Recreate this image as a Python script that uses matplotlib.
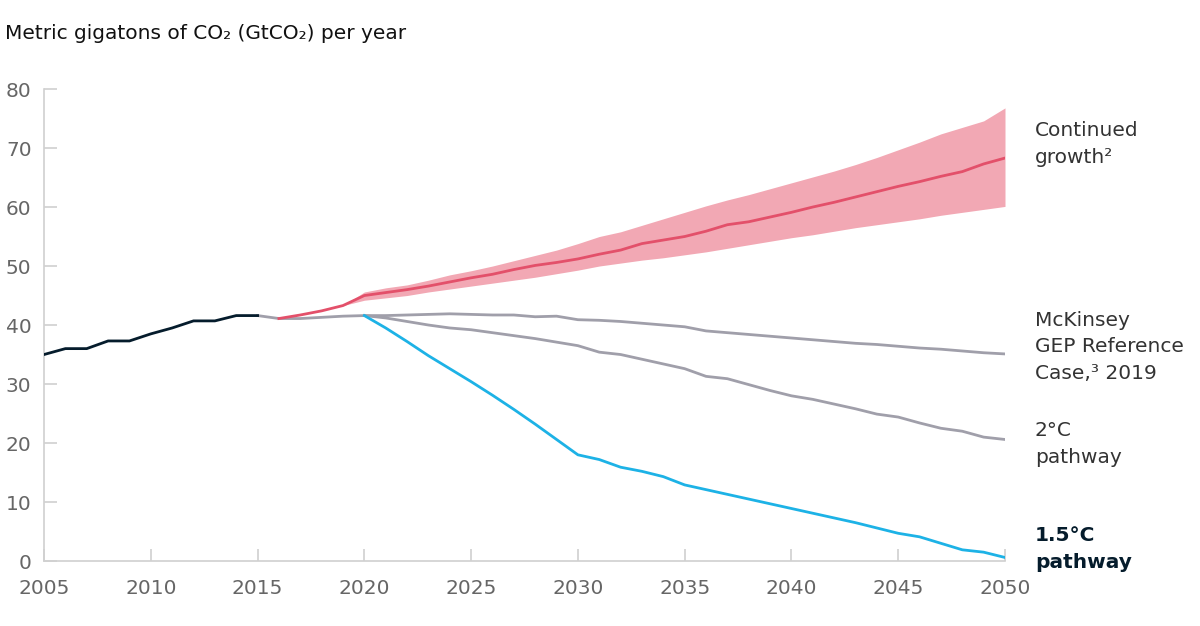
import numpy as np
import matplotlib
matplotlib.use("Agg")
import matplotlib.pyplot as plt

# historical emissions (GtCO2)
hist_years = list(range(2005, 2016))
hist_vals = [35.0, 36.0, 36.0, 37.3, 37.3, 38.5, 39.5, 40.7, 40.7, 41.6, 41.6]

# shared grey segment 2015-2020
shared_years = list(range(2015, 2021))
shared_vals = [41.6, 41.1, 41.1, 41.3, 41.5, 41.6]

proj_years = list(range(2020, 2051))

# continued growth (red line + band)
growth_years = list(range(2016, 2051))
growth_vals = [41.1, 41.7, 42.4, 43.3,
               45.0, 45.5, 46.0, 46.6, 47.3, 48.0, 48.6, 49.4, 50.1, 50.6,
               51.2, 52.0, 52.7, 53.8, 54.4, 55.0, 55.9, 57.0, 57.5, 58.3,
               59.1, 60.0, 60.8, 61.7, 62.6, 63.5, 64.3, 65.2, 66.0, 67.3, 68.3]
band_years = list(range(2019, 2051))
band_upper = [43.3,
              45.6, 46.3, 46.8, 47.6, 48.5, 49.2, 50.0, 50.9, 51.8, 52.7,
              53.8, 55.0, 55.8, 56.9, 58.0, 59.1, 60.2, 61.2, 62.1, 63.1,
              64.1, 65.1, 66.1, 67.2, 68.4, 69.7, 71.0, 72.4, 73.5, 74.6, 76.8]
band_lower = [43.3,
              44.2, 44.6, 45.0, 45.6, 46.1, 46.6, 47.1, 47.6, 48.1, 48.7,
              49.3, 50.0, 50.5, 51.0, 51.4, 51.9, 52.4, 53.0, 53.6, 54.2,
              54.8, 55.3, 55.9, 56.5, 57.0, 57.5, 58.0, 58.6, 59.1, 59.6, 60.1]

# McKinsey GEP reference case
ref_vals = [41.6, 41.6, 41.7, 41.8, 41.9, 41.8, 41.7, 41.7, 41.4, 41.5,
            40.9, 40.8, 40.6, 40.3, 40.0, 39.7, 39.0, 38.7, 38.4, 38.1,
            37.8, 37.5, 37.2, 36.9, 36.7, 36.4, 36.1, 35.9, 35.6, 35.3, 35.1]

# 2 degree pathway
two_vals = [41.6, 41.2, 40.6, 40.0, 39.5, 39.2, 38.7, 38.2, 37.7, 37.1,
            36.5, 35.4, 35.0, 34.2, 33.4, 32.6, 31.3, 30.9, 29.9, 28.9,
            28.0, 27.4, 26.6, 25.8, 24.9, 24.4, 23.4, 22.5, 22.0, 21.0, 20.6]

# 1.5 degree pathway
one5_vals = [41.6, 39.5, 37.2, 34.8, 32.6, 30.4, 28.1, 25.7, 23.2, 20.6,
             18.0, 17.2, 15.9, 15.2, 14.3, 12.9, 12.1, 11.3, 10.5, 9.7,
             8.9, 8.1, 7.3, 6.5, 5.6, 4.7, 4.1, 3.0, 1.9, 1.5, 0.6]

x_ticks = list(range(2005, 2051, 5))
y_ticks = list(range(0, 81, 10))

navy = "#051C2C"
grey = "#A09FAA"
red = "#E3506A"
band = "#F2A8B4"
blue = "#1DB2E6"
tick_col = "#666666"

plt.rcParams['font.family'] = ['DejaVu Sans']
fs = 14.5

fig = plt.figure(figsize=(12, 6.26), dpi=100)
ax = fig.add_axes([0.0367, 0.1038, 0.8008, 0.754])

ax.fill_between(band_years, band_lower, band_upper, color=band, lw=0, zorder=1)
ax.plot(proj_years, ref_vals, color=grey, lw=2, zorder=2)
ax.plot(proj_years, two_vals, color=grey, lw=2, zorder=2)
ax.plot(shared_years, shared_vals, color=grey, lw=2, zorder=2)
ax.plot(proj_years, one5_vals, color=blue, lw=2, zorder=3)
ax.plot(growth_years, growth_vals, color=red, lw=2, zorder=3)
ax.plot(hist_years, hist_vals, color=navy, lw=2, zorder=4)

ax.set_xlim(2005, 2050)
ax.set_ylim(0, 80)
ax.set_xticks(x_ticks)
ax.set_yticks(y_ticks)
for s in ['top', 'right']:
    ax.spines[s].set_visible(False)
for s in ['left', 'bottom']:
    ax.spines[s].set_color("#D0D0D0")
    ax.spines[s].set_linewidth(1.2)
ax.tick_params(axis='both', direction='in', length=9, width=1.2, color="#D0D0D0",
               labelcolor=tick_col, labelsize=fs)
ax.tick_params(axis='x', pad=13)
ax.tick_params(axis='y', pad=9)

fig.text(0.004, 0.947, "Metric gigatons of CO\u2082 (GtCO\u2082) per year",
         fontsize=fs, color="#111111", va='center', ha='left')

lab_x = 1035 / 1200
def ylab(py):
    return 1 - py / 626

txt_col = "#333333"
fig.text(lab_x, ylab(144), "Continued\ngrowth\u00b2", fontsize=fs, color=txt_col,
         va='center', ha='left', linespacing=1.5)
fig.text(lab_x, ylab(347), "McKinsey\nGEP Reference\nCase,\u00b3 2019", fontsize=fs,
         color=txt_col, va='center', ha='left', linespacing=1.5)
fig.text(lab_x, ylab(444), "2\u00b0C\npathway", fontsize=fs, color=txt_col,
         va='center', ha='left', linespacing=1.5)
fig.text(lab_x, ylab(549), "1.5\u00b0C\npathway", fontsize=fs, color=navy,
         va='center', ha='left', linespacing=1.5, fontweight='bold')

fig.savefig("out.png", dpi=100)
